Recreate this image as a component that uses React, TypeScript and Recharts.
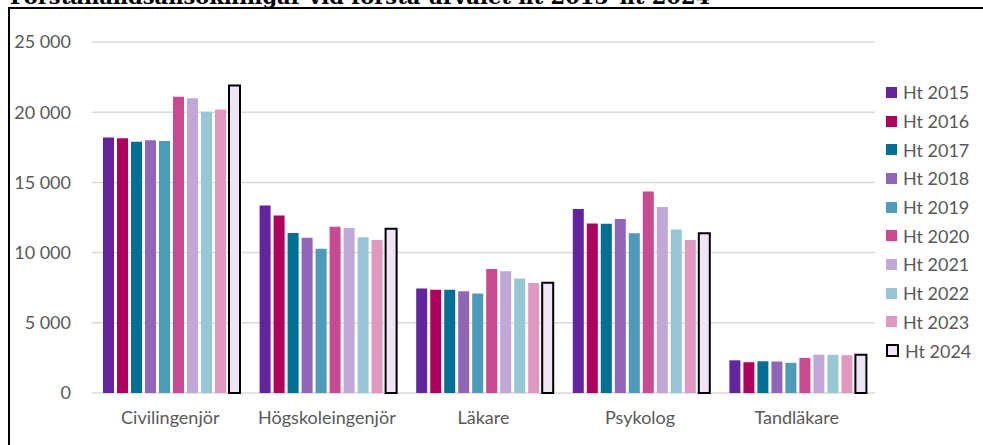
import React from 'react';
import { BarChart, Bar, XAxis, YAxis, CartesianGrid } from 'recharts';

const categories = ['Civilingenjör', 'Högskoleingenjör', 'Läkare', 'Psykolog', 'Tandläkare'];
const years = ['Ht 2015', 'Ht 2016', 'Ht 2017', 'Ht 2018', 'Ht 2019', 'Ht 2020', 'Ht 2021', 'Ht 2022', 'Ht 2023', 'Ht 2024'];

// one value per category, in the order of `categories`
const ht2015 = [18200, 13350, 7450, 13100, 2330];
const ht2016 = [18150, 12650, 7350, 12080, 2190];
const ht2017 = [17900, 11400, 7350, 12050, 2260];
const ht2018 = [18000, 11050, 7250, 12400, 2240];
const ht2019 = [17950, 10280, 7080, 11380, 2150];
const ht2020 = [21100, 11850, 8830, 14350, 2500];
const ht2021 = [21000, 11750, 8670, 13250, 2730];
const ht2022 = [20030, 11100, 8150, 11650, 2720];
const ht2023 = [20200, 10900, 7830, 10900, 2690];
const ht2024 = [21900, 11700, 7850, 11370, 2720];

const yTicks = [0, 5000, 10000, 15000, 20000, 25000];

const series = [ht2015, ht2016, ht2017, ht2018, ht2019, ht2020, ht2021, ht2022, ht2023, ht2024];
const colors = ['#62259D', '#B0005E', '#006F96', '#9166B8', '#4C9BB9', '#C84B91', '#C0A8D8', '#99C6D5', '#E098C0', '#EEE6F4'];

const data = categories.map((name, i) => {
  const row: Record<string, string | number> = { name };
  years.forEach((y, j) => {
    row[y] = series[j][i];
  });
  return row;
});

const fmt = (v: number) => String(v).replace(/\B(?=(\d{3})+(?!\d))/g, ' ');
const font = 'Lato, "Open Sans", sans-serif';

function LegendList() {
  return (
    <div style={{ position: 'absolute', left: 886, top: 78, fontFamily: font, fontSize: 18, color: '#595959' }}>
      {years.map((y, i) => {
        const last = i === years.length - 1;
        return (
          <div key={y} style={{ display: 'flex', alignItems: 'center', height: 28.7 }}>
            <span
              style={{
                display: 'inline-block',
                width: last ? 9 : 11,
                height: last ? 9 : 11,
                background: colors[i],
                border: last ? '2px solid #000' : 'none',
                marginRight: 6
              }}
            />
            {y}
          </div>
        );
      })}
    </div>
  );
}

export default function App() {
  return (
    <div style={{ position: 'absolute', left: 0, top: 0, width: 983, height: 445, overflow: 'hidden', background: '#fff' }}>
      <div
        style={{
          position: 'absolute',
          left: 10,
          top: -14,
          fontFamily: '"DejaVu Serif", "Liberation Serif", serif',
          fontWeight: 'bold',
          fontSize: 21,
          lineHeight: '21px',
          whiteSpace: 'nowrap',
          color: '#000'
        }}
      >
        Förstahandsansökningar vid första urvalet ht 2015–ht 2024
      </div>
      <div
        style={{
          position: 'absolute',
          left: 8,
          top: 7,
          width: 1000,
          height: 500,
          border: '2px solid #000',
          boxSizing: 'border-box'
        }}
      />
      <div style={{ position: 'absolute', left: 0, top: 0 }}>
        <BarChart
          width={983}
          height={445}
          data={data}
          margin={{ top: 42, right: 108, bottom: 22, left: 0 }}
          barCategoryGap={11}
          barGap={3}
        >
          <CartesianGrid vertical={false} stroke="#D9D9D9" strokeWidth={1.5} />
          <XAxis
            dataKey="name"
            axisLine={false}
            tickLine={false}
            height={30}
            tickMargin={12}
            tick={{ fill: '#595959', fontSize: 18, fontFamily: font }}
          />
          <YAxis
            width={92}
            domain={[0, 25000]}
            ticks={yTicks}
            axisLine={false}
            tickLine={false}
            tickMargin={15}
            tickFormatter={fmt}
            tick={{ fill: '#595959', fontSize: 18, fontFamily: font }}
          />
          {years.map((y, i) => (
            <Bar
              key={y}
              dataKey={y}
              fill={colors[i]}
              stroke={i === years.length - 1 ? '#000' : undefined}
              strokeWidth={i === years.length - 1 ? 2 : 0}
              isAnimationActive={false}
            />
          ))}
        </BarChart>
      </div>
      <LegendList />
    </div>
  );
}
